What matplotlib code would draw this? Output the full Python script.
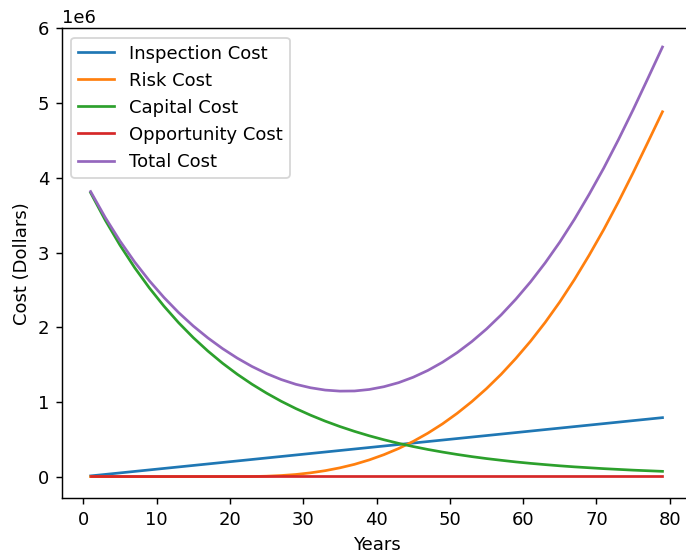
import numpy as np
import matplotlib.pyplot as plt

years = list(range(1, 80, 2))

inspection_cost = [10000, 30000, 50000, 70000, 90000, 110000, 130000, 150000, 170000, 190000,
                   210000, 230000, 250000, 270000, 290000, 310000, 330000, 350000, 370000, 390000,
                   410000, 430000, 450000, 470000, 490000, 510000, 530000, 550000, 570000, 590000,
                   610000, 630000, 650000, 670000, 690000, 710000, 730000, 750000, 770000, 790000]

risk_cost = [0, 0, 0, 0, 0, 0, 0, 0, 0, 0,
             100, 1500, 6000, 15000, 29000, 51000, 80000, 118000, 165000, 224000,
             294000, 376000, 472000, 582000, 707000, 848000, 1005000, 1179000, 1371000, 1583000,
             1813000, 2065000, 2340000, 2640000, 2965000, 3310000, 3680000, 4070000, 4475000, 4885000]

capital_cost = [3801000, 3433000, 3100000, 2799000, 2528000, 2283000, 2061000, 1861000, 1681000, 1518000,
                1371000, 1238000, 1118000, 1009000, 911000, 823000, 743000, 671000, 606000, 547000,
                494000, 446000, 403000, 364000, 329000, 297000, 268000, 242000, 219000, 197000,
                178000, 161000, 145000, 131000, 119000, 107000, 97000, 87000, 79000, 71000]

opportunity_cost = [6000] * 40

total_cost = (np.array(inspection_cost) + np.array(risk_cost)
              + np.array(capital_cost) + np.array(opportunity_cost))

fig = plt.figure(figsize=(686 / 130, 553 / 130), dpi=130)
ax = fig.add_axes([0.0904, 0.0989, 0.917, 0.8496])

ax.plot(years, inspection_cost, label='Inspection Cost')
ax.plot(years, risk_cost, label='Risk Cost')
ax.plot(years, capital_cost, label='Capital Cost')
ax.plot(years, opportunity_cost, label='Opportunity Cost')
ax.plot(years, total_cost, label='Total Cost')

# the screenshot is cut off on the right, so no right spine
ax.spines['right'].set_visible(False)

ax.set_ylim(-0.29e6, 6.0e6)
ax.set_xlabel('Years')
ax.set_ylabel('Cost (Dollars)')
ax.legend(loc='upper left')

fig.savefig('out.png', dpi=130)
